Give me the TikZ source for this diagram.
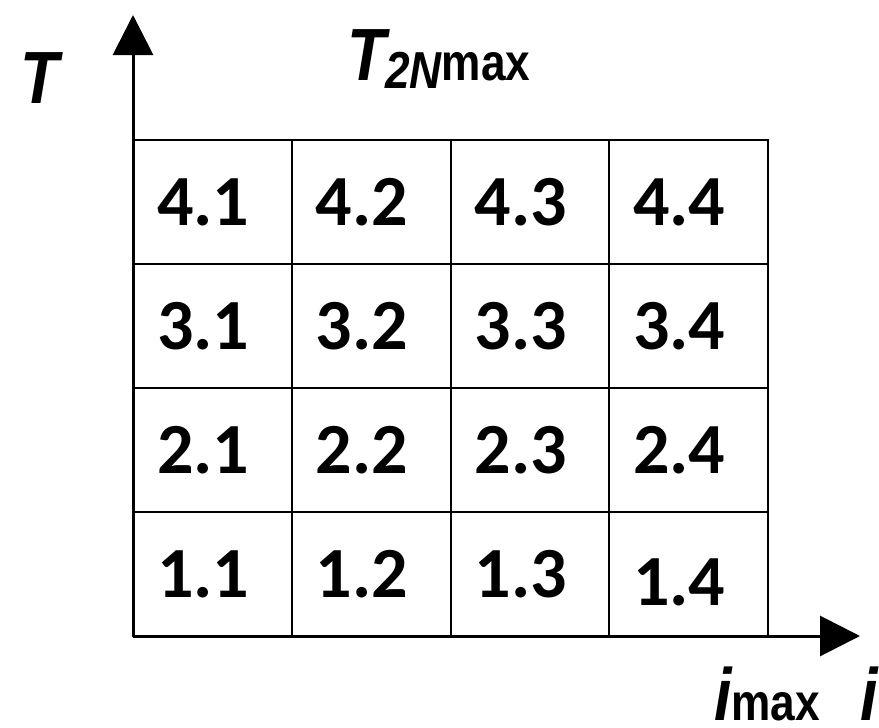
\documentclass[tikz,border=0pt]{standalone}
\usepackage{fontspec}
\newfontfamily\cellfont[BoldFont={Carlito Bold}]{Carlito}
\newfontfamily\lblfont[FakeStretch=0.85]{Liberation Sans}
\usepackage{tikz}
\usetikzlibrary{positioning, arrows.meta, calc}

\begin{document}
\begin{tikzpicture}[x=0.5pt, y=-0.5pt,
          every node/.style={inner sep=0pt, outer sep=0pt},
          cell/.style={rectangle, draw, line width=1pt, minimum width=79.375pt, minimum height=62pt},
          num/.style={anchor=base west, font=\cellfont\bfseries\fontsize{36}{36}\selectfont},
          axis/.style={line width=1.5pt, -{Triangle[length=20pt, width=20pt]}},
          lbl/.style={anchor=base west, font=\lblfont\bfseries\fontsize{37}{37}\selectfont}]
          \useasboundingbox (0,0) rectangle (879,728);

          % cells, row 4 on top
          \foreach \r in {1,...,4}
            \foreach \c in {1,...,4}
              \node[cell] (c\r\c) at ({133+158.75*(\c-0.5)}, {636-124*(\r-0.5)}) {};

          \foreach \r in {1,...,4}
            \foreach \c in {1,...,3}
              \node[num, xshift=12pt, yshift=-11.75pt] at (c\r\c.west) {\r.\c};
          \foreach \r in {2,...,4}
            \node[num, xshift=12pt, yshift=-11.75pt] at (c\r4.west) {\r.4};
          \node[num, xshift=12pt, yshift=-15.75pt] at (c14.west) {1.4};

          % axes
          \coordinate (o) at (c11.south west);
          \coordinate (ytip) at (133,15);
          \coordinate (xtip) at (860,636);
          \draw[axis] (o) -- (ytip);
          \draw[axis] (o) -- (xtip);

          \node[lbl] (tlab) at (20,103) {\itshape T};
          \node[lbl] (tmax) at (347,80) {\itshape T\raisebox{-4pt}{\fontsize{26}{26}\selectfont 2N}\upshape\fontsize{26}{26}\selectfont max};
          \node[lbl] (imax) at (714,720) {\itshape i\upshape\fontsize{26}{26}\selectfont max};
          \node[lbl] (ilab) at (860,720) {\itshape i};
        \end{tikzpicture}
\end{document}
